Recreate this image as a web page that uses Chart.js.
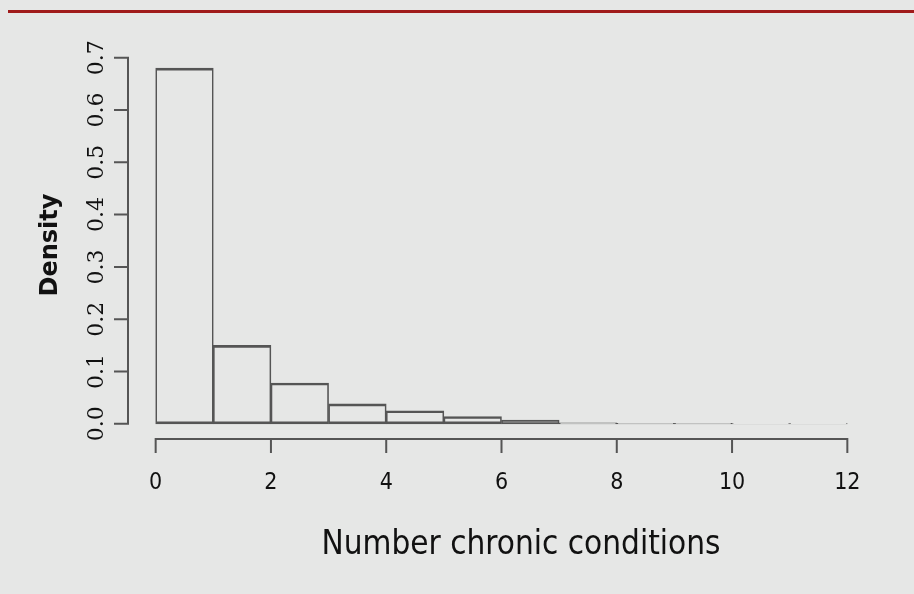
<!DOCTYPE html>
<html>
<head>
<meta charset="utf-8">
<script src="https://cdn.jsdelivr.net/npm/chart.js@4.4.1/dist/chart.umd.min.js"></script>
<style>
  html, body { margin: 0; padding: 0; background: #e6e7e6; }
  #wrap { position: relative; width: 914px; height: 594px; overflow: hidden; }
  #topline { position: absolute; left: 8px; right: 0; top: 10px; height: 3px; background: #a01b1b; }
  #hist { position: absolute; left: 0; top: 0; }
</style>
</head>
<body>
<div id="wrap">
  <div id="topline"></div>
  <canvas id="hist" width="914" height="594"></canvas>
</div>
<script>
// histogram bins (left edges, width 1) and densities
const binStarts = [0, 1, 2, 3, 4, 5, 6, 7, 8, 9, 10, 11];
const densities = [0.68, 0.15, 0.078, 0.038, 0.025, 0.014, 0.007, 0.002, 0.001, 0.001, 0.0005, 0.0005];

// axis ticks
const xTicks = [0, 2, 4, 6, 8, 10, 12];
const xTickLabels = ['0', '2', '4', '6', '8', '10', '12'];
const yTicks = [0, 0.1, 0.2, 0.3, 0.4, 0.5, 0.6, 0.7];
const yTickLabels = ['0.0', '0.1', '0.2', '0.3', '0.4', '0.5', '0.6', '0.7'];

const xTitle = 'Number chronic conditions';
const yTitle = 'Density';

const axisColor = '#555555';

// R style axes: line only between first and last tick, ticks pointing out
const rAxes = {
  id: 'rAxes',
  afterDraw(chart) {
    const ctx = chart.ctx;
    const xs = chart.scales.x;
    const ys = chart.scales.y;
    const area = chart.chartArea;
    ctx.save();
    ctx.strokeStyle = axisColor;
    ctx.lineWidth = 2;

    // y axis
    const ax = area.left;
    ctx.beginPath();
    ctx.moveTo(ax, ys.getPixelForValue(yTicks[0]));
    ctx.lineTo(ax, ys.getPixelForValue(yTicks[yTicks.length - 1]));
    yTicks.forEach(t => {
      const py = ys.getPixelForValue(t);
      ctx.moveTo(ax + 1, py);
      ctx.lineTo(ax - 14, py);
    });
    ctx.stroke();

    // x axis
    const ay = area.bottom;
    ctx.beginPath();
    ctx.moveTo(xs.getPixelForValue(xTicks[0]), ay);
    ctx.lineTo(xs.getPixelForValue(xTicks[xTicks.length - 1]), ay);
    xTicks.forEach(t => {
      const px = xs.getPixelForValue(t);
      ctx.moveTo(px, ay - 1);
      ctx.lineTo(px, ay + 14);
    });
    ctx.stroke();

    // tick labels
    ctx.fillStyle = '#111111';
    ctx.textAlign = 'center';
    ctx.textBaseline = 'alphabetic';
    ctx.font = '23px "Liberation Sans Narrow", "DejaVu Sans Condensed", sans-serif';
    xTicks.forEach((t, i) => {
      ctx.fillText(xTickLabels[i], xs.getPixelForValue(t), ay + 50);
    });

    ctx.font = '22px "DejaVu Serif", "Liberation Serif", serif';
    yTicks.forEach((t, i) => {
      ctx.save();
      ctx.translate(ax - 25, ys.getPixelForValue(t));
      ctx.rotate(-Math.PI / 2);
      ctx.fillText(yTickLabels[i], 0, 0);
      ctx.restore();
    });

    // titles
    ctx.font = '33px "Liberation Sans Narrow", "DejaVu Sans Condensed", sans-serif';
    ctx.fillText(xTitle, 521, 554);

    ctx.save();
    ctx.translate(57, 245);
    ctx.rotate(-Math.PI / 2);
    ctx.font = 'bold 24px "DejaVu Sans", sans-serif';
    ctx.fillText(yTitle, 0, 0);
    ctx.restore();

    ctx.restore();
  }
};

const ctx = document.getElementById('hist');

new Chart(ctx, {
  type: 'bar',
  data: {
    datasets: [{
      label: yTitle,
      data: binStarts.map((b, i) => ({ x: b + 0.5, y: densities[i] })),
      backgroundColor: 'rgba(0, 0, 0, 0)',
      borderColor: axisColor,
      borderWidth: { top: 2, left: 1, right: 1, bottom: 2 },
      borderSkipped: false,
      barPercentage: 1,
      categoryPercentage: 1
    }]
  },
  options: {
    responsive: false,
    animation: false,
    layout: {
      padding: { left: 128, right: 39, top: 43, bottom: 155 }
    },
    scales: {
      x: {
        type: 'linear',
        offset: false,
        min: -0.48,
        max: 12.48,
        display: false
      },
      y: {
        type: 'linear',
        min: -0.029,
        max: 0.728,
        display: false
      }
    },
    plugins: {
      legend: { display: false },
      tooltip: { enabled: false },
      title: { display: false }
    }
  },
  plugins: [rAxes]
});
</script>
</body>
</html>
